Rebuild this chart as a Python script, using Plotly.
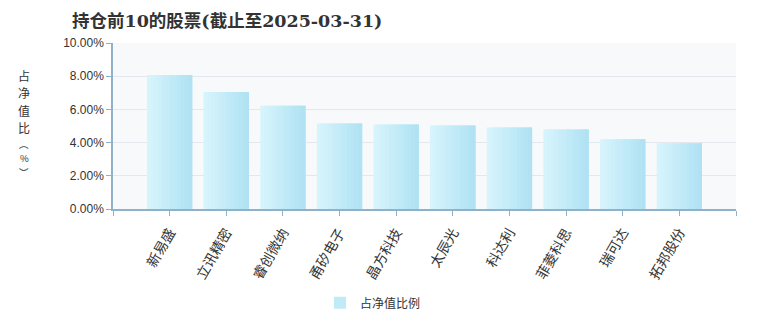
import plotly.graph_objects as go

names = ["新易盛", "立讯精密", "睿创微纳", "甬矽电子", "晶方科技",
         "太辰光", "科达利", "菲菱科思", "瑞可达", "拓邦股份"]
values = [8.07, 7.05, 6.22, 5.15, 5.09, 5.03, 4.91, 4.79, 4.20, 3.96]
y_ticks = [0, 2, 4, 6, 8, 10]
y_ticklabels = ["0.00%", "2.00%", "4.00%", "6.00%", "8.00%", "10.00%"]

title = "持仓前10的股票(截止至2025-03-31)"
y_title_chars = ["占", "净", "值", "比", "︵", "%", "︶"]
y_title_pos = [76, 93.5, 111, 128.5, 145.5, 159.5, 173.5]
series_name = "占净值比例"

# horizontal gradient approximated with overlapping slices
c_left = (214, 244, 252)
c_right = (176, 226, 243)
n_slices = 12
bar_w = 0.8
xs = list(range(len(names)))

fig = go.Figure()
for k in range(n_slices):
    t = k / (n_slices - 1)
    col = tuple(round(c_left[i] + (c_right[i] - c_left[i]) * t) for i in range(3))
    sw = bar_w / n_slices
    w = sw if k == n_slices - 1 else 2 * sw
    fig.add_trace(go.Bar(
        x=xs, y=values,
        width=w,
        offset=-bar_w / 2 + k * sw,
        marker=dict(color="rgb(%d,%d,%d)" % col, line=dict(width=0)),
        name=series_name,
        showlegend=(k == n_slices // 2),
        hoverinfo="skip" if k != n_slices // 2 else None,
    ))

fig.update_layout(
    width=760, height=330,
    margin=dict(l=113, r=24, t=43, b=119),
    paper_bgcolor="white",
    plot_bgcolor="#f8f9fb",
    barmode="overlay",
    title=dict(text=title, x=72 / 760, xanchor="left", y=1 - 21 / 330, yanchor="middle",
               font=dict(family="DejaVu Serif, Noto Sans CJK SC", size=17.5, color="#333333",
                         weight="bold")),
    showlegend=True,
    legend=dict(orientation="h", x=(320 - 113) / 623, xanchor="left",
                y=(211 - 306) / 168, yanchor="middle",
                font=dict(family="Noto Sans CJK SC", size=12, color="#333333"),
                itemwidth=30),
    font=dict(family="Liberation Sans, Noto Sans CJK SC", color="#333333"),
)

fig.update_xaxes(
    range=[-1, 10],
    tickmode="array",
    tickvals=list(range(-1, 11)),
    ticktext=[""] + names + [""],
    tickangle=-60,
    ticks="outside", ticklen=5, tickcolor="#8fb2cb",
    showline=True, linecolor="#8fb2cb", linewidth=1.5,
    showgrid=False, zeroline=False,
    tickfont=dict(family="Noto Sans CJK SC", size=14, color="#333333"),
    ticklabelstandoff=3,
    fixedrange=True,
)
fig.update_yaxes(
    range=[0, 10],
    tickmode="array",
    tickvals=y_ticks,
    ticktext=y_ticklabels,
    ticks="outside", ticklen=5, tickcolor="#8fb2cb",
    showline=True, linecolor="#8fb2cb", linewidth=1.5,
    showgrid=True, gridcolor="#e3e8ef", gridwidth=1,
    zeroline=False,
    tickfont=dict(family="Liberation Sans", size=12, color="#333333"),
    fixedrange=True,
)

for ch, py in zip(y_title_chars, y_title_pos):
    small = ch in "︵%︶"
    fig.add_annotation(
        text=ch,
        xref="paper", yref="paper",
        x=-(113 - 24) / 623, y=(211 - py) / 168,
        xanchor="center", yanchor="middle",
        showarrow=False,
        borderpad=0,
        font=dict(family="Noto Sans CJK SC", size=9.5 if small else 12,
                  color="#333333"),
    )

fig.write_html("out.html")
